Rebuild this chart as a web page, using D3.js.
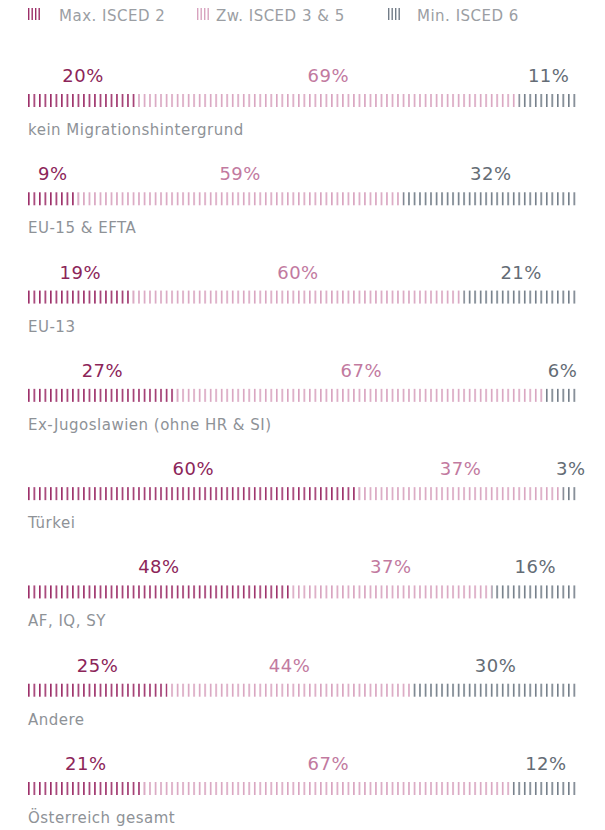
<!DOCTYPE html>
<html>
<head>
<meta charset="utf-8">
<script src="https://cdn.jsdelivr.net/npm/d3@7"></script>
<style>
  body { margin: 0; background: #fff; }
  svg text { font-family: "DejaVu Sans", "Open Sans", sans-serif; }
</style>
</head>
<body>
<div id="container"></div>
<script>
var categories = ["kein Migrationshintergrund", "EU-15 & EFTA", "EU-13", "Ex-Jugoslawien (ohne HR & SI)",
    "Türkei", "AF, IQ, SY", "Andere", "Österreich gesamt"];
var seriesNames = ["Max. ISCED 2", "Zw. ISCED 3 & 5", "Min. ISCED 6"];
var maxIsced2 = [20, 9, 19, 27, 60, 48, 25, 21];
var zwIsced35 = [69, 59, 60, 67, 37, 37, 44, 67];
var minIsced6 = [11, 32, 21, 6, 3, 16, 30, 12];

var barColors = ["#9c2e68", "#d8a3bf", "#727c87"];
var textColors = ["#8c2559", "#c27a9f", "#646c75"];

var width = 605, height = 830;

var svg = d3.select("#container").append("svg")
    .attr("width", width)
    .attr("height", height);

var defs = svg.append("defs");
var step = 5.51;
barColors.forEach(function(c, i) {
    var p = defs.append("pattern")
        .attr("id", "stripe" + i)
        .attr("patternUnits", "userSpaceOnUse")
        .attr("x", 28)
        .attr("width", step)
        .attr("height", 20);
    p.append("rect")
        .attr("x", 0).attr("y", 0)
        .attr("width", 1.6).attr("height", 20)
        .attr("fill", c);
});

// legend
var legendX = [28, 197, 388];
var legend = svg.append("g").selectAll("g")
    .data(seriesNames)
    .enter().append("g")
    .attr("transform", function(d, i) { return "translate(" + legendX[i] + ",8)"; });
legend.each(function(d, i) {
    var g = d3.select(this);
    g.selectAll("rect").data(d3.range(4)).enter().append("rect")
        .attr("x", function(k) { return k * 3.5; })
        .attr("y", 0)
        .attr("width", 1.4)
        .attr("height", 12)
        .attr("fill", barColors[i]);
});
legend.append("text")
    .attr("x", function(d, i) { return [31, 19, 29][i]; })
    .attr("y", 12.5)
    .attr("font-size", 15)
    .attr("letter-spacing", 0.5)
    .attr("fill", "#9b9ea3")
    .text(function(d) { return d; });

var x = d3.scaleLinear().range([28, 579]);
var y = d3.scaleLinear().domain([0, 7]).range([94, 782]);

var rows = categories.map(function(c, i) {
    return { name: c, values: [maxIsced2[i], zwIsced35[i], minIsced6[i]] };
});

var row = svg.append("g").selectAll("g")
    .data(rows)
    .enter().append("g")
    .attr("transform", function(d, i) { return "translate(0," + y(i) + ")"; });

row.each(function(d) {
    var g = d3.select(this);
    var total = d3.sum(d.values);
    var sx = x.copy().domain([0, total]);
    var cum = 0;
    var segs = d.values.map(function(v, k) {
        var s = { k: k, v: v, x0: cum, x1: cum + v };
        cum += v;
        return s;
    });
    g.selectAll("rect.seg").data(segs).enter().append("rect")
        .attr("class", "seg")
        .attr("x", function(s) { return sx(s.x0); })
        .attr("y", 0)
        .attr("width", function(s) { return sx(s.x1) - sx(s.x0); })
        .attr("height", 13)
        .attr("fill", function(s) { return "url(#stripe" + s.k + ")"; });
    g.selectAll("text.pct").data(segs).enter().append("text")
        .attr("class", "pct")
        .attr("x", function(s) { return (sx(s.x0) + sx(s.x1)) / 2; })
        .attr("y", -12)
        .attr("text-anchor", "middle")
        .attr("font-size", 18)
        .attr("letter-spacing", 0.5)
        .attr("fill", function(s) { return textColors[s.k]; })
        .text(function(s) { return s.v + "%"; });
    g.append("text")
        .attr("x", 28)
        .attr("y", 41)
        .attr("font-size", 15)
        .attr("letter-spacing", 0.5)
        .attr("fill", "#8e9297")
        .text(d.name);
});
</script>
</body>
</html>
